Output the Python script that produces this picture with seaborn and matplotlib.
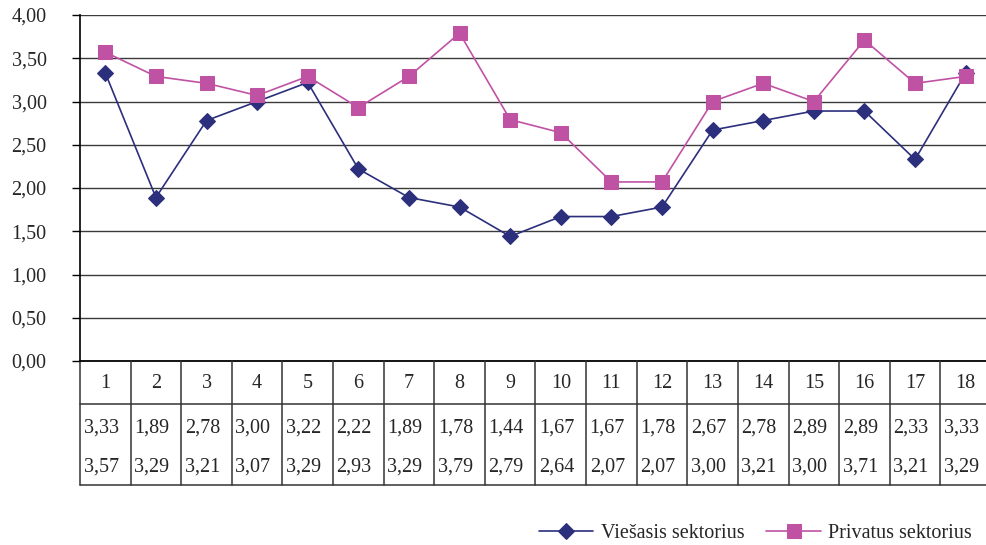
import numpy as np
import pandas as pd
import matplotlib
matplotlib.use("Agg")
import matplotlib.pyplot as plt
import matplotlib.transforms as mtransforms
import seaborn as sns

# =========================================
# Data
# =========================================
groups = [str(i) for i in range(1, 19)]
viesasis = [3.33, 1.89, 2.78, 3.00, 3.22, 2.22, 1.89, 1.78, 1.44,
            1.67, 1.67, 1.78, 2.67, 2.78, 2.89, 2.89, 2.33, 3.33]
privatus = [3.57, 3.29, 3.21, 3.07, 3.29, 2.93, 3.29, 3.79, 2.79,
            2.64, 2.07, 2.07, 3.00, 3.21, 3.00, 3.71, 3.21, 3.29]
y_ticks = [0, 0.5, 1, 1.5, 2, 2.5, 3, 3.5, 4]

navy = "#2b2f7c"
magenta = "#c052a4"
fs = 14.5

sns.set_style("white")
plt.rcParams["font.family"] = ["Liberation Serif", "DejaVu Serif"]

df = pd.DataFrame({"pos": np.arange(len(groups)),
                   "Viešasis sektorius": viesasis,
                   "Privatus sektorius": privatus})

fig = plt.figure(figsize=(9.87, 5.45), dpi=100)
ax = fig.add_axes([80 / 987, 1 - 361 / 545, 911 / 987, 346 / 545])

sns.lineplot(data=df, x="pos", y="Viešasis sektorius", ax=ax, color=navy,
             marker="D", markersize=8, markeredgecolor=navy, linewidth=1.2,
             label="Viešasis sektorius", legend=False)
sns.lineplot(data=df, x="pos", y="Privatus sektorius", ax=ax, color=magenta,
             marker="s", markersize=10, markeredgecolor=magenta, linewidth=1.2,
             label="Privatus sektorius", legend=False)

ax.set_xlim(-0.5, len(groups) - 0.5)
ax.set_ylim(0, 4)
ax.set_yticks(y_ticks)
ax.set_yticklabels([f"{v:.2f}".replace(".", ",") for v in y_ticks], fontsize=fs)
ax.set_xticks([])
ax.set_xlabel("")
ax.set_ylabel("")
ax.tick_params(axis="y", length=6, width=1, pad=18, color="black", left=True)
for yv in y_ticks[1:]:
    ax.axhline(yv, color="#3a3a3a", linewidth=1, zorder=0)
for s in ["top", "right", "bottom"]:
    ax.spines[s].set_visible(False)
ax.spines["left"].set_color("black")
ax.spines["left"].set_linewidth(1.2)
ax.axhline(0, color="black", linewidth=1.3, clip_on=False)

# =========================================
# Data table under the plot
# =========================================
trans = mtransforms.blended_transform_factory(ax.transData, ax.transAxes)
row1 = -43 / 346
row2 = -124 / 346
n = len(groups)
for i in range(n + 1):
    ax.plot([i - 0.5, i - 0.5], [0, row2], color="#333333", lw=1.1,
            transform=trans, clip_on=False)
for yy in [row1, row2]:
    ax.plot([-0.5, n - 0.5], [yy, yy], color="#333333", lw=1.1,
            transform=trans, clip_on=False)
for i, g in enumerate(groups):
    ax.text(i, -22 / 346, g, transform=trans, ha="center", va="center", fontsize=fs)
    ax.text(i - 0.43, -67 / 346, f"{viesasis[i]:.2f}".replace(".", ","), transform=trans,
            ha="left", va="center", fontsize=fs)
    ax.text(i - 0.43, -106 / 346, f"{privatus[i]:.2f}".replace(".", ","), transform=trans,
            ha="left", va="center", fontsize=fs)

handles, labels = ax.get_legend_handles_labels()
fig.legend(handles, labels, loc="center left", bbox_to_anchor=(521 / 987, 1 - 533 / 545),
           ncol=2, frameon=False, fontsize=14.5, handlelength=2.7, columnspacing=1.1,
           handletextpad=0.35)

fig.savefig("out.png", dpi=100)
